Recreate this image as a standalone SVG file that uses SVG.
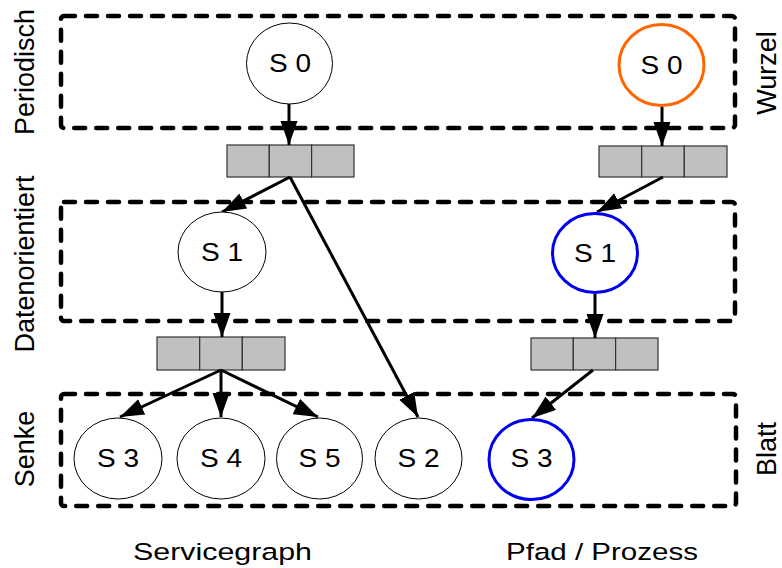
<svg xmlns="http://www.w3.org/2000/svg" width="782" height="568" viewBox="0 0 782 568">
  <style>
    .lane { fill: none; stroke: #000; stroke-width: 4.5; stroke-dasharray: 11 11; stroke-linecap: round; stroke-linejoin: round; }
    .node { fill: #fff; stroke: #000; stroke-width: 1; }
    .root { fill: #fff; stroke: #ff6600; stroke-width: 3; }
    .path { fill: #fff; stroke: #0000ee; stroke-width: 3; }
    .cell { fill: #c0c0c0; stroke: #333; stroke-width: 1.2; }
    .lbl  { font-family: "Liberation Sans", Arial, sans-serif; font-size: 26px; fill: #000; text-anchor: middle; }
    .side { font-family: "Liberation Sans", Arial, sans-serif; font-size: 27px; fill: #000; text-anchor: middle; }
    .cap  { font-family: "Liberation Sans", Arial, sans-serif; font-size: 24.5px; fill: #000; text-anchor: middle; }
    .edge { fill: none; stroke: #000; stroke-width: 3; marker-end: url(#arrow); }
  </style>
  <defs>
    <marker id="arrow" markerUnits="userSpaceOnUse" markerWidth="26" markerHeight="18" refX="24" refY="8.5" orient="auto">
      <path d="M0,0 L24,8.5 L0,17 z" fill="#000"/>
    </marker>
  </defs>

  <rect width="782" height="568" fill="#fff"/>

  <!-- layer frames -->
  <g id="lanes">
    <rect class="lane" x="61" y="16" width="674" height="112" rx="3"/>
    <rect class="lane" x="61" y="202" width="674" height="119" rx="3"/>
    <rect class="lane" x="61" y="394" width="675" height="112" rx="3"/>
  </g>

  <!-- side labels -->
  <g id="layer-labels">
    <text class="side" transform="translate(34,72) rotate(-90)">Periodisch</text>
    <text class="side" transform="translate(34,264) rotate(-90)">Datenorientiert</text>
    <text class="side" transform="translate(34,449) rotate(-90)">Senke</text>
    <text class="side" transform="translate(776,73) rotate(-90)">Wurzel</text>
    <text class="side" transform="translate(776,449) rotate(-90)">Blatt</text>
  </g>

  <!-- queues -->
  <g id="queue-g1">
    <rect class="cell" x="227" y="145" width="42.3" height="32"/>
    <rect class="cell" x="269.3" y="145" width="42.3" height="32"/>
    <rect class="cell" x="311.6" y="145" width="42.4" height="32"/>
  </g>
  <g id="queue-g2">
    <rect class="cell" x="157" y="337" width="42.7" height="33"/>
    <rect class="cell" x="199.7" y="337" width="42.6" height="33"/>
    <rect class="cell" x="242.3" y="337" width="42.7" height="33"/>
  </g>
  <g id="queue-p1">
    <rect class="cell" x="599" y="146" width="42.7" height="31"/>
    <rect class="cell" x="641.7" y="146" width="42.6" height="31"/>
    <rect class="cell" x="684.3" y="146" width="42.7" height="31"/>
  </g>
  <g id="queue-p2">
    <rect class="cell" x="531" y="338" width="42.3" height="32"/>
    <rect class="cell" x="573.3" y="338" width="42.3" height="32"/>
    <rect class="cell" x="615.6" y="338" width="42.4" height="32"/>
  </g>

  <!-- connectors -->
  <g id="connectors">
    <path class="edge" d="M289,104 L289,145"/>
    <path class="edge" d="M290,177 L222,212"/>
    <path class="edge" d="M290,177 L418,417"/>
    <path class="edge" d="M222,292 L222,337"/>
    <path class="edge" d="M221,370 L120,417"/>
    <path class="edge" d="M221,370 L221,417"/>
    <path class="edge" d="M221,370 L318,417"/>
    <path class="edge" d="M662,107 L662,146"/>
    <path class="edge" d="M663,177 L597,212"/>
    <path class="edge" d="M595,294 L595,338"/>
    <path class="edge" d="M593,370 L532,418"/>
  </g>

  <!-- service graph nodes -->
  <g id="g-s0">
    <ellipse class="node" cx="289.5" cy="63.5" rx="43" ry="40.5"/>
    <text class="lbl" x="290" y="72" textLength="42" lengthAdjust="spacingAndGlyphs">S 0</text>
  </g>
  <g id="g-s1">
    <ellipse class="node" cx="222" cy="252" rx="44" ry="40"/>
    <text class="lbl" x="222" y="261" textLength="42" lengthAdjust="spacingAndGlyphs">S 1</text>
  </g>
  <g id="g-s3">
    <ellipse class="node" cx="118" cy="458.5" rx="44" ry="40.5"/>
    <text class="lbl" x="118" y="467" textLength="42" lengthAdjust="spacingAndGlyphs">S 3</text>
  </g>
  <g id="g-s4">
    <ellipse class="node" cx="221" cy="458.5" rx="44" ry="40.5"/>
    <text class="lbl" x="221" y="467" textLength="42" lengthAdjust="spacingAndGlyphs">S 4</text>
  </g>
  <g id="g-s5">
    <ellipse class="node" cx="319.5" cy="458.5" rx="43" ry="40.5"/>
    <text class="lbl" x="319.5" y="467" textLength="42" lengthAdjust="spacingAndGlyphs">S 5</text>
  </g>
  <g id="g-s2">
    <ellipse class="node" cx="418.5" cy="458.5" rx="43.5" ry="40.5"/>
    <text class="lbl" x="418.5" y="467" textLength="42" lengthAdjust="spacingAndGlyphs">S 2</text>
  </g>

  <!-- path / process nodes -->
  <g id="p-s0">
    <ellipse class="root" cx="661.5" cy="65" rx="42.5" ry="40.5"/>
    <text class="lbl" x="661.5" y="74" textLength="42" lengthAdjust="spacingAndGlyphs">S 0</text>
  </g>
  <g id="p-s1">
    <ellipse class="path" cx="595" cy="253" rx="42.5" ry="39.5"/>
    <text class="lbl" x="595" y="262" textLength="42" lengthAdjust="spacingAndGlyphs">S 1</text>
  </g>
  <g id="p-s3">
    <ellipse class="path" cx="531.5" cy="459.5" rx="42.5" ry="40"/>
    <text class="lbl" x="531.5" y="467" textLength="42" lengthAdjust="spacingAndGlyphs">S 3</text>
  </g>

  <!-- column captions -->
  <g id="captions">
    <text class="cap" x="222.5" y="560" textLength="179" lengthAdjust="spacingAndGlyphs">Servicegraph</text>
    <text class="cap" x="602" y="560" textLength="192" lengthAdjust="spacingAndGlyphs">Pfad / Prozess</text>
  </g>
</svg>
